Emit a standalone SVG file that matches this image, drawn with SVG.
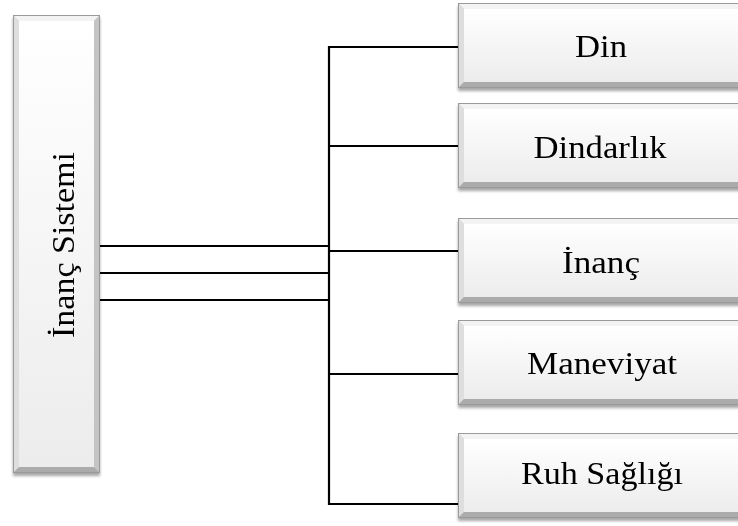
<svg xmlns="http://www.w3.org/2000/svg" xmlns:xlink="http://www.w3.org/1999/xlink" width="738" height="526" viewBox="0 0 738 526">
<style>
.lbl{font-family:"Liberation Serif","Times New Roman",serif;font-size:31px;fill:#000;text-anchor:middle}
.conn{stroke:#000;stroke-width:2.2;fill:none}
.bt{fill:#f3f3f3}.bl{fill:#dedede}.br{fill:#c4c4c4}.bb{fill:#ababab}
.edge{fill:none;stroke:#9a9a9a;stroke-width:1}
</style>
<defs>
<linearGradient id="face" x1="0" y1="0" x2="0" y2="1">
<stop offset="0" stop-color="#ffffff"/><stop offset="1" stop-color="#ececec"/>
</linearGradient>
<filter id="sh" x="-10%" y="-10%" width="120%" height="130%">
<feDropShadow dx="0" dy="3" stdDeviation="1.6" flood-color="#000" flood-opacity="0.35"/>
</filter>
<g id="rbox">
<rect x="0" y="0" width="290" height="85" fill="#d0d0d0"/>
<polygon class="bt" points="0,0 290,0 284,6 6,6"/>
<polygon class="bl" points="0,0 6,6 6,79 0,85"/>
<polygon class="br" points="290,0 290,85 284,79 284,6"/>
<polygon class="bb" points="0,85 290,85 284,79 6,79"/>
<rect x="6" y="6" width="278" height="73" fill="url(#face)"/>
<rect class="edge" x="0.5" y="0.5" width="289" height="84"/>
</g>
</defs>
<rect width="738" height="526" fill="#ffffff"/>

<g id="connectors">
<line class="conn" x1="100" y1="246" x2="330" y2="246"/>
<line class="conn" x1="100" y1="273" x2="330" y2="273"/>
<line class="conn" x1="100" y1="300" x2="330" y2="300"/>
<line class="conn" x1="329" y1="46" x2="329" y2="505"/>
<line class="conn" x1="328" y1="47" x2="458" y2="47"/>
<line class="conn" x1="328" y1="146" x2="458" y2="146"/>
<line class="conn" x1="328" y1="251" x2="458" y2="251"/>
<line class="conn" x1="328" y1="374" x2="458" y2="374"/>
<line class="conn" x1="328" y1="504" x2="458" y2="504"/>
</g>

<g id="inanc-sistemi" filter="url(#sh)">
<rect x="13" y="15" width="87" height="458" fill="#d0d0d0"/>
<polygon class="bt" points="13,15 100,15 94,21 19,21"/>
<polygon class="bl" points="13,15 19,21 19,467 13,473"/>
<polygon class="br" points="100,15 100,473 94,467 94,21"/>
<polygon class="bb" points="13,473 100,473 94,467 19,467"/>
<rect x="19" y="21" width="75" height="446" fill="url(#face)"/>
<rect class="edge" x="13.5" y="15.5" width="86" height="457"/>
<text class="lbl" transform="translate(74,245) rotate(-90)" textLength="186" lengthAdjust="spacingAndGlyphs">İnanç Sistemi</text>
</g>

<g id="din" filter="url(#sh)">
<use xlink:href="#rbox" x="458" y="3"/>
<text class="lbl" x="601" y="57" textLength="52" lengthAdjust="spacingAndGlyphs">Din</text>
</g>

<g id="dindarlik" filter="url(#sh)">
<use xlink:href="#rbox" x="458" y="103"/>
<text class="lbl" x="600" y="158" textLength="133" lengthAdjust="spacingAndGlyphs">Dindarlık</text>
</g>

<g id="inanc" filter="url(#sh)">
<use xlink:href="#rbox" x="458" y="218"/>
<text class="lbl" x="601" y="273" textLength="78" lengthAdjust="spacingAndGlyphs">İnanç</text>
</g>

<g id="maneviyat" filter="url(#sh)">
<use xlink:href="#rbox" x="458" y="320"/>
<text class="lbl" x="602" y="374" textLength="150" lengthAdjust="spacingAndGlyphs">Maneviyat</text>
</g>

<g id="ruh-sagligi" filter="url(#sh)">
<use xlink:href="#rbox" x="458" y="433"/>
<text class="lbl" x="602" y="484" textLength="162" lengthAdjust="spacingAndGlyphs">Ruh Sağlığı</text>
</g>
</svg>
